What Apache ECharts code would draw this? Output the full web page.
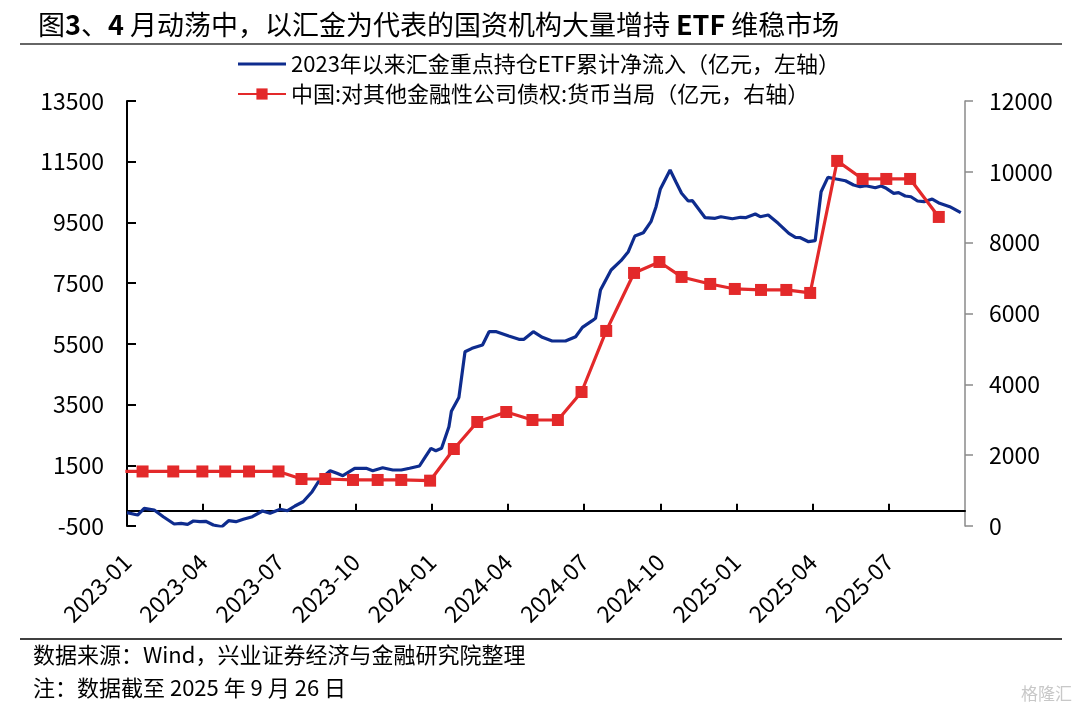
<!DOCTYPE html>
<html>
<head>
<meta charset="utf-8">
<script src="https://cdn.jsdelivr.net/npm/echarts@6/dist/echarts.min.js"></script>
<style>
html,body{margin:0;padding:0;background:#fff;}
#chart{width:1080px;height:707px;}
</style>
</head>
<body>
<div id="chart"></div>
<script>
// ---- data ----
const seriesNames = ['2023年以来汇金重点持仓ETF累计净流入（亿元，左轴）', '中国:对其他金融性公司债权:货币当局（亿元，右轴）'];
const blueDates = ['2023-01-01','2023-01-14','2023-01-22','2023-02-03','2023-02-13','2023-02-25','2023-03-05','2023-03-13','2023-03-20','2023-03-28',
'2023-04-04','2023-04-13','2023-04-23','2023-05-01','2023-05-10','2023-05-19','2023-05-30','2023-06-11','2023-06-20','2023-07-02',
'2023-07-11','2023-07-20','2023-07-30','2023-08-10','2023-08-19','2023-09-01','2023-09-09','2023-09-16','2023-09-30','2023-10-14',
'2023-10-22','2023-11-03','2023-11-15','2023-11-25','2023-12-05','2023-12-17','2023-12-23','2023-12-31','2024-01-06','2024-01-13',
'2024-01-22','2024-01-25','2024-02-03','2024-02-10','2024-02-18','2024-03-01','2024-03-09','2024-03-18','2024-04-02','2024-04-14',
'2024-04-20','2024-05-01','2024-05-12','2024-05-24','2024-06-09','2024-06-21','2024-06-29','2024-07-11','2024-07-15','2024-07-21',
'2024-08-03','2024-08-15','2024-08-24','2024-09-01','2024-09-11','2024-09-20','2024-09-26','2024-10-01','2024-10-13','2024-10-20',
'2024-10-27','2024-11-04','2024-11-09','2024-11-24','2024-12-06','2024-12-13','2024-12-27','2025-01-06','2025-01-12','2025-01-24',
'2025-01-30','2025-02-08','2025-02-19','2025-03-03','2025-03-11','2025-03-17','2025-03-27','2025-04-04','2025-04-11','2025-04-19',
'2025-04-29','2025-05-10','2025-05-20','2025-05-28','2025-06-04','2025-06-15','2025-06-22','2025-06-28','2025-07-07','2025-07-13',
'2025-07-21','2025-07-28','2025-08-05','2025-08-13','2025-08-23','2025-09-01','2025-09-13','2025-09-26'];
const blueValues = [-60,-138,83,27,-194,-434,-411,-444,-335,-358,
-345,-467,-523,-325,-358,-279,-194,-6,-82,50,
4,159,300,630,1015,1322,1236,1157,1401,1401,
1322,1420,1345,1345,1401,1476,1730,2059,1980,2059,
2771,3280,3730,5241,5353,5462,5900,5900,5759,5650,
5650,5900,5716,5594,5594,5736,6045,6263,6342,7274,
7933,8239,8535,9053,9161,9524,10018,10591,11227,10841,
10459,10206,10216,9656,9636,9688,9622,9669,9656,9777,
9688,9744,9471,9141,9010,8997,8865,8898,10512,10986,
10930,10874,10733,10677,10710,10644,10700,10624,10459,10481,
10370,10347,10206,10183,10271,10130,10018,9820];
const redDates = ['2022-12-30','2023-01-20','2023-02-24','2023-03-31','2023-04-27','2023-05-26','2023-06-30','2023-07-28','2023-08-26','2023-09-28',
'2023-10-28','2023-11-25','2023-12-30','2024-01-28','2024-02-24','2024-03-30','2024-04-30','2024-05-31','2024-06-28','2024-07-28',
'2024-08-31','2024-09-30','2024-10-27','2024-11-30','2024-12-30','2025-01-31','2025-02-28','2025-03-29','2025-04-30','2025-05-31',
'2025-06-28','2025-07-27','2025-08-31'];
const redValues = [1540,1540,1540,1540,1540,1540,1540,1327,1327,1300,
1300,1300,1280,2174,2937,3219,2993,2993,3784,5507,
7145,7455,7032,6834,6693,6665,6665,6580,10308,9799,
9799,9799,8726];
const xTickLabels = ['2023-01','2023-04','2023-07','2023-10','2024-01','2024-04','2024-07','2024-10','2025-01','2025-04','2025-07'];

// month index since 2023-01 (fractional within the month)
function monthIndex(s){
  const p = s.split('-').map(Number);
  const day = p.length > 2 ? p[2] : 1;
  const dim = new Date(p[0], p[1], 0).getDate();
  return (p[0]-2023)*12 + (p[1]-1) + (day-1)/dim;
}
const blueData = blueDates.map((d,i)=>[monthIndex(d), blueValues[i]]);
const redData = redDates.map((d,i)=>[monthIndex(d), redValues[i]]);

const FONT = '"Noto Sans CJK SC", "Noto Sans", sans-serif';
const BLUE = '#0E2C8E';
const RED = '#E3292A';

const chart = echarts.init(document.getElementById('chart'), null, {renderer:'canvas'});
chart.setOption({
  backgroundColor:'#fff',
  animation:false,
  textStyle:{fontFamily:FONT, color:'#000'},
  title:{
    left:33, top:6,
    text:'{n|图}{b|3}{n|、}{b|4}{n| 月动荡中，以汇金为代表的国资机构大量增持 }{b|ETF}{n| 维稳市场}',
    textStyle:{
      rich:{
        n:{fontFamily:FONT, fontSize:27, color:'#000', fontWeight:'normal'},
        b:{fontFamily:FONT, fontSize:27, color:'#000', fontWeight:'bold'}
      }
    }
  },
  legend:{
    orient:'vertical', left:232, top:48,
    itemWidth:48, itemHeight:14, itemGap:8,
    textStyle:{fontFamily:FONT, fontSize:22, color:'#000'},
    data:[
      {name:seriesNames[0], icon:'path://M0,0L48,0L48,3L0,3Z'},
      {name:seriesNames[1]}
    ]
  },
  grid:{left:127, right:115, top:101, bottom:181, containLabel:false},
  xAxis:{
    type:'value', min:0, max:33, interval:3,
    axisLine:{show:true, onZero:true, onZeroAxisIndex:0, lineStyle:{color:'#000', width:2}},
    axisTick:{show:true, inside:true, length:7, lineStyle:{color:'#000', width:2}},
    axisLabel:{
      rotate:45, margin:32, fontSize:23, fontFamily:FONT, color:'#000',
      showMaxLabel:false,
      formatter:(v)=>{ const i = Math.round(v/3); return xTickLabels[i] || ''; }
    },
    splitLine:{show:false}
  },
  yAxis:[{
    type:'value', min:-500, max:13500, interval:2000, position:'left',
    axisLine:{show:true, lineStyle:{color:'#000', width:2}},
    axisTick:{show:true, inside:true, length:9, lineStyle:{color:'#000', width:2}},
    axisLabel:{margin:23, fontSize:23, fontFamily:FONT, color:'#000', formatter:(v)=>String(v)},
    splitLine:{show:false}
  },{
    type:'value', min:0, max:12000, interval:2000, position:'right',
    axisLine:{show:true, lineStyle:{color:'#8a8a8a', width:1.5}},
    axisTick:{show:true, inside:false, length:8, lineStyle:{color:'#8a8a8a', width:1.5}},
    axisLabel:{margin:24, fontSize:23, fontFamily:FONT, color:'#000', formatter:(v)=>String(v)},
    splitLine:{show:false}
  }],
  series:[{
    name:seriesNames[0], type:'line', yAxisIndex:0, data:blueData,
    symbol:'none', showSymbol:false, clip:true,
    lineStyle:{color:BLUE, width:3.2}, itemStyle:{color:BLUE}, z:3
  },{
    name:seriesNames[1], type:'line', yAxisIndex:1, data:redData,
    symbol:'rect', symbolSize:12, clip:true,
    lineStyle:{color:RED, width:3.2}, itemStyle:{color:RED}, z:4
  }],
  graphic:[
    {type:'line', shape:{x1:20, y1:44, x2:1062, y2:44}, style:{stroke:'#333', lineWidth:1.5}},
    {type:'line', shape:{x1:20, y1:639, x2:1062, y2:639}, style:{stroke:'#000', lineWidth:1.5}},
    {type:'text', left:33, top:644, style:{text:'数据来源：Wind，兴业证券经济与金融研究院整理', font:'22px "Noto Sans CJK SC"', fill:'#000'}},
    {type:'text', left:33, top:677, style:{text:'注：数据截至 2025 年 9 月 26 日', font:'22px "Noto Sans CJK SC"', fill:'#000'}},
    {type:'text', right:8, top:685, style:{text:'格隆汇', font:'17px "Noto Sans CJK SC"', fill:'#c8c8c8'}}
  ]
});
</script>
</body>
</html>
